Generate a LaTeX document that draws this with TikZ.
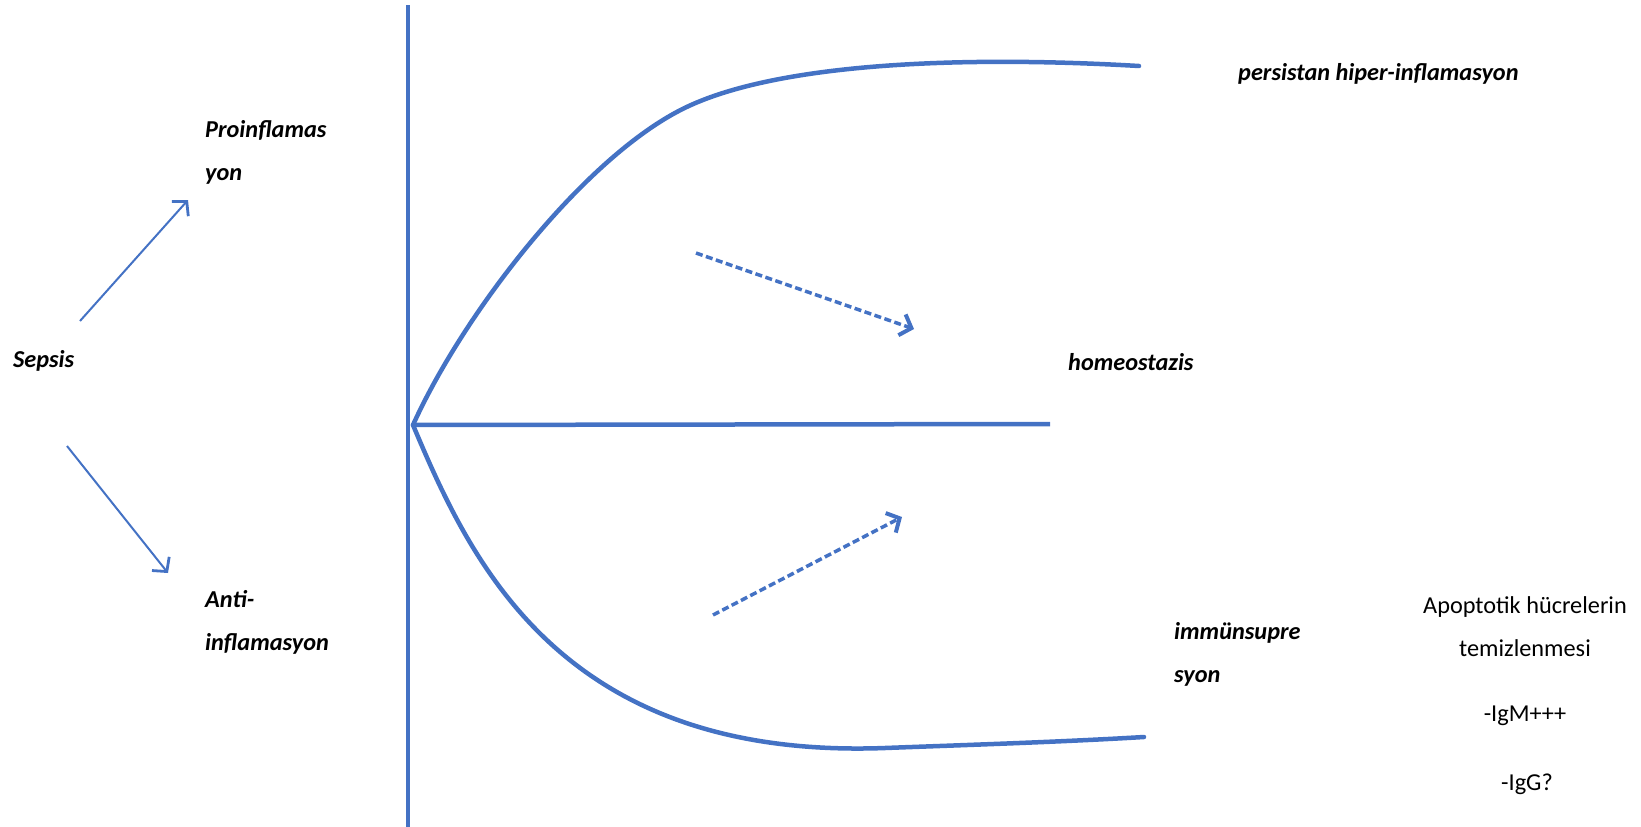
\documentclass[tikz,border=0pt]{standalone}
\usepackage{fontspec}
\setmainfont{Carlito}
\usetikzlibrary{arrows.meta,positioning}
\definecolor{offblue}{HTML}{4472C4}

\begin{document}
\begin{tikzpicture}[
  x=1pt, y=-1pt,
  every node/.style={inner sep=0pt, font=\fontsize{24.3}{43}\selectfont},
  lab/.style={anchor=west, align=left, font=\fontsize{24.3}{43}\selectfont\bfseries\itshape},
  note/.style={align=center},
  axis/.style={offblue, line width=3.5pt},
  branch/.style={offblue, line width=4.5pt},
  split/.style={offblue, line width=2pt, -{Straight Barb[length=10pt,width=22pt,line width=2.8pt]}},
  drift/.style={offblue, line width=3.5pt, dash pattern=on 7pt off 3.5pt,
    -{Straight Barb[length=10pt,width=22pt,line width=4pt]}},
]
\useasboundingbox (0,0) rectangle (1641,827);
% labels
\node[lab] (sepsis) at (13,361) {Sepsis};
\node[lab] (pro) at (205,152) {Proinflamas\\yon};
\node[lab] (anti) at (205,622) {Anti-\\inflamasyon};
\node[lab] (pers) at (1238,74) {persistan hiper-inflamasyon};
\node[lab] (homeo) at (1068,362) {homeostazis};
\node[lab] (immun) at (1174,654) {immünsupre\\syon};
\node[note] (apop) at (1525,627) {Apoptotik hücrelerin\\temizlenmesi};
\node[note] (igm) at (1525,716) {-IgM+++};
\node[note] (igg) at (1527,784) {-IgG?};
% axis and branches
\coordinate (o) at (413,425);
\coordinate (top) at (408,5);
\coordinate (bot) at (408,827);
\coordinate (mid) at (1050,424);
\coordinate (hi) at (691,105);
\coordinate (hiend) at (1139,66);
\coordinate (lo) at (885,748);
\coordinate (loend) at (1144,737);
\draw[axis] (top) -- (bot);
\draw[branch] (o) -- (mid);
\draw[branch, line cap=round] (o) .. controls (465,310) and (590,150) .. (hi)
  .. controls (780,65) and (950,55) .. (hiend);
\draw[branch, line cap=round] (o) .. controls (470,560) and (560,760) .. (lo)
  .. controls (965,745) and (1060,742) .. (loend);
% sepsis split
\coordinate (s1) at (80,321);
\coordinate (p1) at (188,200);
\coordinate (s2) at (67,446);
\coordinate (a2) at (168,573);
\draw[split] (s1) -- (p1);
\draw[split] (s2) -- (a2);
% drift towards homeostasis
\coordinate (u1) at (696,253);
\coordinate (u2) at (914,329);
\coordinate (l1) at (713,615);
\coordinate (l2) at (902,517);
\draw[drift] (u1) -- (u2);
\draw[drift] (l1) -- (l2);
\end{tikzpicture}
\end{document}
